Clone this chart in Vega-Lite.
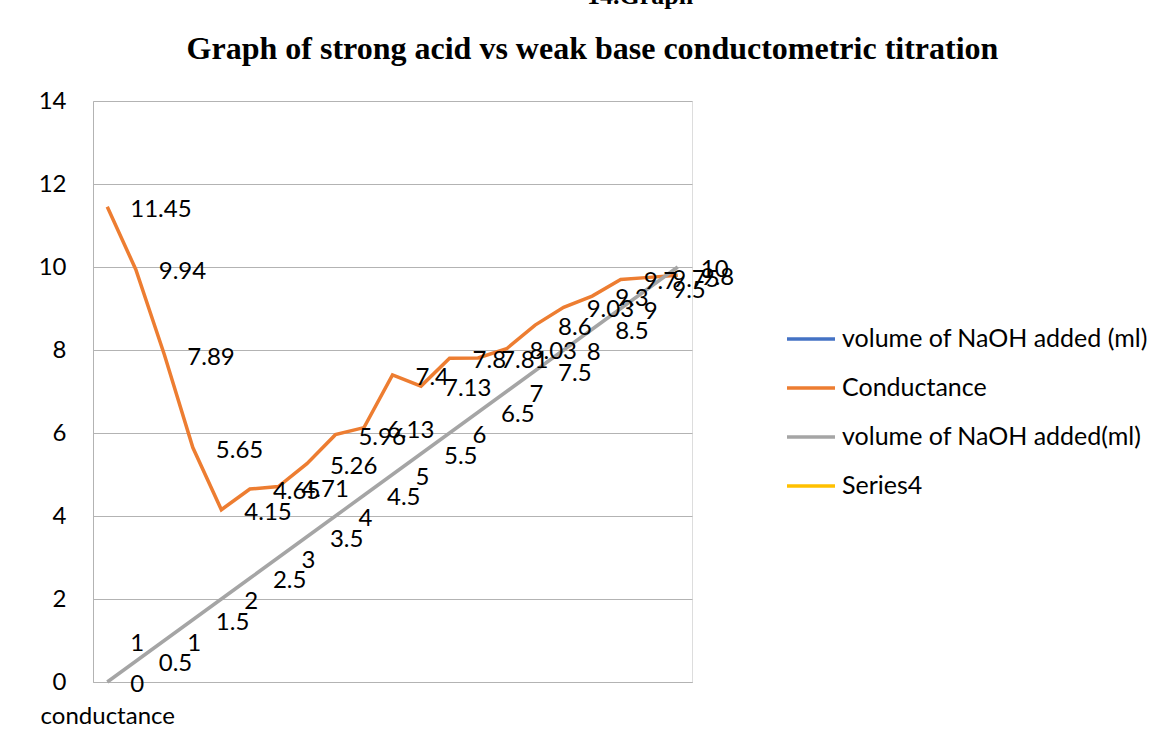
{
  "$schema": "https://vega.github.io/schema/vega-lite/v6.json",
  "autosize": {"type": "none"},
  "width": 599,
  "height": 581,
  "padding": {"left": 93, "top": 101, "right": 465, "bottom": 60},
  "background": "white",
  "title": {
    "text": "\u2800\u2800\u2800\u2800\u280014.Graph",
    "font": "Liberation Serif",
    "fontSize": 26,
    "fontWeight": "bold",
    "color": "#000000",
    "subtitle": "Graph of strong acid vs weak base conductometric titration",
    "subtitleFont": "Liberation Serif",
    "subtitleFontSize": 32,
    "subtitleFontWeight": "bold",
    "subtitleColor": "#000000",
    "subtitlePadding": 25,
    "anchor": "middle",
    "frame": "group",
    "dx": 200,
    "offset": 24
  },
  "data": {
    "values": [
      {"idx": 0, "series": "volume of NaOH added (ml)", "value": 1},
      {"idx": 0, "series": "Conductance", "value": 11.45},
      {"idx": 1, "series": "Conductance", "value": 9.94},
      {"idx": 2, "series": "Conductance", "value": 7.89},
      {"idx": 3, "series": "Conductance", "value": 5.65},
      {"idx": 4, "series": "Conductance", "value": 4.15},
      {"idx": 5, "series": "Conductance", "value": 4.65},
      {"idx": 6, "series": "Conductance", "value": 4.71},
      {"idx": 7, "series": "Conductance", "value": 5.26},
      {"idx": 8, "series": "Conductance", "value": 5.96},
      {"idx": 9, "series": "Conductance", "value": 6.13},
      {"idx": 10, "series": "Conductance", "value": 7.4},
      {"idx": 11, "series": "Conductance", "value": 7.13},
      {"idx": 12, "series": "Conductance", "value": 7.8},
      {"idx": 13, "series": "Conductance", "value": 7.81},
      {"idx": 14, "series": "Conductance", "value": 8.03},
      {"idx": 15, "series": "Conductance", "value": 8.6},
      {"idx": 16, "series": "Conductance", "value": 9.03},
      {"idx": 17, "series": "Conductance", "value": 9.3},
      {"idx": 18, "series": "Conductance", "value": 9.7},
      {"idx": 19, "series": "Conductance", "value": 9.75},
      {"idx": 20, "series": "Conductance", "value": 9.8},
      {"idx": 0, "series": "volume of NaOH added(ml)", "value": 0},
      {"idx": 1, "series": "volume of NaOH added(ml)", "value": 0.5},
      {"idx": 2, "series": "volume of NaOH added(ml)", "value": 1},
      {"idx": 3, "series": "volume of NaOH added(ml)", "value": 1.5},
      {"idx": 4, "series": "volume of NaOH added(ml)", "value": 2},
      {"idx": 5, "series": "volume of NaOH added(ml)", "value": 2.5},
      {"idx": 6, "series": "volume of NaOH added(ml)", "value": 3},
      {"idx": 7, "series": "volume of NaOH added(ml)", "value": 3.5},
      {"idx": 8, "series": "volume of NaOH added(ml)", "value": 4},
      {"idx": 9, "series": "volume of NaOH added(ml)", "value": 4.5},
      {"idx": 10, "series": "volume of NaOH added(ml)", "value": 5},
      {"idx": 11, "series": "volume of NaOH added(ml)", "value": 5.5},
      {"idx": 12, "series": "volume of NaOH added(ml)", "value": 6},
      {"idx": 13, "series": "volume of NaOH added(ml)", "value": 6.5},
      {"idx": 14, "series": "volume of NaOH added(ml)", "value": 7},
      {"idx": 15, "series": "volume of NaOH added(ml)", "value": 7.5},
      {"idx": 16, "series": "volume of NaOH added(ml)", "value": 8},
      {"idx": 17, "series": "volume of NaOH added(ml)", "value": 8.5},
      {"idx": 18, "series": "volume of NaOH added(ml)", "value": 9},
      {"idx": 19, "series": "volume of NaOH added(ml)", "value": 9.5},
      {"idx": 20, "series": "volume of NaOH added(ml)", "value": 10}
    ]
  },
  "encoding": {
    "x": {
      "field": "idx",
      "type": "ordinal",
      "scale": {"type": "point", "padding": 0.5},
      "axis": {
        "title": null,
        "labelExpr": "datum.value == 0 ? 'conductance' : ''",
        "labelAngle": 0,
        "labelFont": "Lato",
        "labelFontSize": 24,
        "labelColor": "#000000",
        "labelPadding": 22,
        "ticks": false,
        "domain": true,
        "domainColor": "#b3b3b3",
        "grid": false
      }
    },
    "y": {
      "field": "value",
      "type": "quantitative",
      "scale": {"domain": [0, 14], "nice": false, "zero": true},
      "axis": {
        "title": null,
        "values": [0, 2, 4, 6, 8, 10, 12, 14],
        "labelFont": "Lato",
        "labelFontSize": 24,
        "labelColor": "#000000",
        "labelPadding": 27,
        "ticks": false,
        "domain": true,
        "domainColor": "#b3b3b3",
        "grid": true,
        "gridColor": "#b3b3b3",
        "gridWidth": 1
      }
    }
  },
  "layer": [
    {
      "mark": {"type": "line", "strokeWidth": 3.5},
      "encoding": {
        "color": {
          "field": "series",
          "type": "nominal",
          "scale": {
            "domain": ["volume of NaOH added (ml)", "Conductance", "volume of NaOH added(ml)", "Series4"],
            "range": ["#4472C4", "#ED7D31", "#A5A5A5", "#FFC000"]
          },
          "sort": null,
          "legend": {
            "title": null,
            "orient": "none",
            "legendX": 692,
            "legendY": 212,
            "symbolType": "stroke",
            "symbolSize": 2304,
            "symbolStrokeWidth": 3.5,
            "labelFont": "Lato",
            "labelFontSize": 25,
            "labelColor": "#000000",
            "labelOffset": 5,
            "labelLimit": 400,
            "rowPadding": 10
          }
        }
      }
    },
    {
      "mark": {"type": "text", "align": "left", "baseline": "middle", "dx": 23, "dy": 3, "font": "Lato", "fontSize": 24, "color": "#000000"},
      "encoding": {
        "text": {"field": "value", "type": "nominal"}
      }
    }
  ]
}
